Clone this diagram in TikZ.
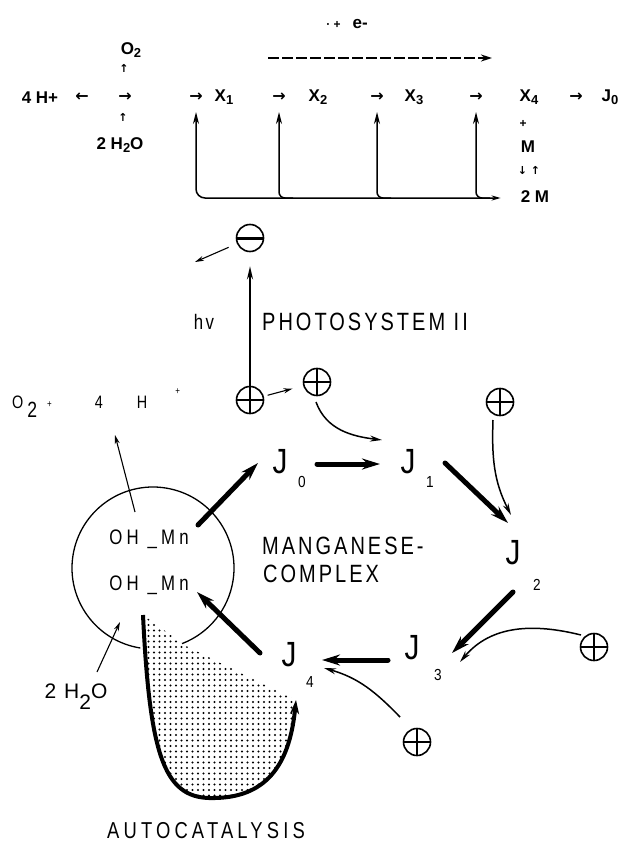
\documentclass[tikz,border=0pt]{standalone}
\usepackage{fontspec}
\setmainfont{Liberation Sans}
\newfontfamily\arrf{DejaVu Sans}
\newfontfamily\lfont[FakeStretch=0.8,LetterSpace=12]{Liberation Sans}
\newfontfamily\acfont[FakeStretch=0.8,LetterSpace=18]{Liberation Sans}
\newfontfamily\ohfont[FakeStretch=0.8,LetterSpace=20]{Liberation Sans}
\newfontfamily\hfont[LetterSpace=10]{Liberation Sans}
\newfontfamily\jfont[FakeStretch=0.85]{Liberation Sans}
\newcommand{\tsb}[1]{\raisebox{-3pt}{\fontsize{13}{13}\selectfont #1}}
\usetikzlibrary{arrows.meta,patterns.meta}
\begin{document}
\begin{tikzpicture}[x=1pt,y=-1pt,
 toptxt/.style={font=\fontsize{17}{17}\selectfont\bfseries, inner sep=0pt},
 topsm/.style={font=\fontsize{12}{12}\selectfont\bfseries, inner sep=0pt},
 arrg/.style={font=\arrf\fontsize{16}{16}\selectfont\bfseries, inner sep=0pt},
 arrsm/.style={font=\arrf\fontsize{11}{11}\selectfont\bfseries, inner sep=0pt},
 labtxt/.style={font=\lfont\fontsize{25}{25}\selectfont, inner sep=0pt},
 hvtxt/.style={font=\lfont\fontsize{21}{21}\selectfont, inner sep=0pt},
 ohtxt/.style={font=\ohfont\fontsize{21}{21}\selectfont, inner sep=0pt},
 jnode/.style={font=\jfont\fontsize{35}{35}\selectfont, inner sep=0pt},
 jsub/.style={font=\jfont\fontsize{16}{16}\selectfont, inner sep=0pt},
 pcirc/.style={circle, draw, line width=1.6pt, minimum size=27pt, inner sep=0pt},
 plusc/.style={pcirc, path picture={\draw[line width=2.4pt] (path picture bounding box.north) -- (path picture bounding box.south) (path picture bounding box.west) -- (path picture bounding box.east);}},
 minusc/.style={pcirc, path picture={\draw[line width=3pt] (path picture bounding box.west) -- (path picture bounding box.east);}},
 jarrow/.style={line width=5pt, line cap=round, -{Stealth[length=18pt,width=11pt,inset=6pt]}},
 thinarr/.style={line width=1.1pt, -{Stealth[length=9pt,width=5pt]}},
 curvearr/.style={line width=1.5pt, -{Stealth[length=12pt,width=6pt]}},
 vuparr/.style={line width=1.5pt, -{Stealth[length=12pt,width=6pt]}},
]
\useasboundingbox (0,0) rectangle (621,845);

% ---------- top reaction scheme ----------
\node[toptxt] (ee) at (347,24) {{\fontsize{12}{12}\selectfont · +}\hspace{12pt}e-};
\coordinate (d1) at (268,58);
\coordinate (d2) at (492,58);
\draw[line width=2.6pt, dash pattern=on 11pt off 3pt, -{Stealth[length=11pt,width=7pt]}] (d1) -- (d2);

\node[toptxt] (H4) at (40,98) {4 H+};
\node[arrg] (aL) at (82,97) {←};
\node[arrg] (a0) at (125,97) {→};
\node[toptxt] (O2) at (131,50) {O\tsb{2}};
\node[arrsm] (u1) at (124,68) {↑};
\node[arrsm] (u2) at (123,117) {↑};
\node[toptxt] (H2Ot) at (120,145) {2 H\tsb{2}O};
\node[arrg] (a1) at (196,97) {→};
\node[toptxt] (X1) at (224,97) {X\tsb{1}};
\node[arrg] (a2) at (279,97) {→};
\node[toptxt] (X2) at (318,97) {X\tsb{2}};
\node[arrg] (a3) at (377,97) {→};
\node[toptxt] (X3) at (414,97) {X\tsb{3}};
\node[arrg] (a4) at (476,97) {→};
\node[toptxt] (X4) at (529,97) {X\tsb{4}};
\node[arrg] (a5) at (576,97) {→};
\node[toptxt] (J0t) at (610,97) {J\tsb{0}};
\node[topsm] (pl) at (523,124) {+};
\node[toptxt] (Mt) at (528,147) {M};
\node[arrsm] (ud) at (529,170) {↓ ↑};
\node[toptxt] (M2) at (535,197) {2 M};

\draw[{Stealth[length=9pt,width=5pt]}-{Stealth[length=12pt,width=6pt]}, line width=1.5pt, rounded corners=9pt]
  ([shift={(-20,1)}]M2.west) -| ([shift={(0,15)}]a1.center);
\draw[vuparr, rounded corners=6pt] ([shift={(14,101)}]a2.center) -| ([shift={(0,15)}]a2.center);
\draw[vuparr, rounded corners=6pt] ([shift={(14,101)}]a3.center) -| ([shift={(0,15)}]a3.center);
\draw[vuparr, rounded corners=6pt] ([shift={(14,101)}]a4.center) -| ([shift={(0,15)}]a4.center);

% ---------- photosystem ----------
\node[minusc] (M) at (250,238) {};
\node[plusc] (P1) at (250,400) {};
\node[plusc] (P2) at (317,382) {};
\node[plusc] (P3) at (500,402) {};
\node[plusc] (P4) at (594,647) {};
\node[plusc] (P5) at (417,742) {};

\draw[line width=2pt, -{Stealth[length=13pt,width=6pt]}, shorten >=14pt] (P1) -- (M);
\coordinate (e1) at (195,262);
\draw[thinarr, shorten <=9pt] (M) -- (e1);
\draw[thinarr, shorten <=4pt, shorten >=11pt] (P1) -- (P2);

\node[hvtxt] (hv) at (204,322) {hv};
\node[labtxt, anchor=west] (PS) at (262,322) {PHOTOSYSTEM II};

\node[font=\ohfont\fontsize{18}{18}\selectfont, inner sep=0pt, anchor=west] (O2H) at (12,403)
  {O\hspace{4pt}\raisebox{-9pt}{\fontsize{22}{22}\selectfont 2}\hspace{10pt}\raisebox{1pt}{\fontsize{10}{10}\selectfont +}\hspace{43pt}4\hspace{34pt}H\hspace{28pt}\raisebox{14pt}{\fontsize{10}{10}\selectfont +}};

\coordinate (c2) at (382,440);
\draw[curvearr] ([shift={(-1,20)}]P2.center) to[out=-70,in=173] (c2);
\coordinate (c3) at (511,515);
\draw[curvearr] ([shift={(-7,18)}]P3.center) to[out=-92,in=117] (c3);
\coordinate (c4) at (460,662);
\draw[curvearr] ([shift={(-13,-12)}]P4.center) to[out=166,in=50] (c4);
\coordinate (c5) at (324,668);
\draw[curvearr] ([shift={(-17,-25)}]P5.center) to[out=134,in=-16] (c5);

% ---------- manganese complex ----------
\coordinate (ac1) at (143,615);
\coordinate (ac2) at (296,700);
\coordinate (st) at (186,646);
\fill[pattern={Dots[distance=5.5pt,radius=1.1pt]}] (ac1) .. controls (150,760) and (165,800) .. (215,798) .. controls (270,797) and (290,760) .. (ac2) -- (st) -- cycle;

\coordinate (cc) at (153,568);
\draw[line width=1.3pt] (cc) ++(99:81) arc[start angle=99, end angle=429, radius=81];

\draw[line width=4pt, -{Stealth[length=14pt,width=9pt]}] (ac1) .. controls (150,760) and (165,800) .. (215,798) .. controls (270,797) and (290,760) .. (ac2);

\node[ohtxt] (OH1) at (149,539) {OH \_Mn};
\node[ohtxt] (OH2) at (149,585) {OH \_Mn};
\node[labtxt, anchor=west] (MG) at (262,546) {MANGANESE-};
\node[labtxt, anchor=west] (CP) at (263,574) {COMPLEX};

\node[jnode] (J0) at (280,462) {J};
\node[jnode] (J1) at (408,462) {J};
\node[jnode] (J2) at (513,553) {J};
\node[jnode] (J3) at (412,648) {J};
\node[jnode] (J4) at (289,655) {J};
\node[jsub] (J0s) at (302,482) {0};
\node[jsub] (J1s) at (430,482) {1};
\node[jsub] (J2s) at (537,585) {2};
\node[jsub] (J3s) at (438,675) {3};
\node[jsub] (J4s) at (310,682) {4};

\draw[jarrow] ([shift={(37,2)}]J0.center) -- ([shift={(-28,2)}]J1.center);
\draw[jarrow] ([shift={(37,1)}]J1.center) -- ([shift={(-5,-30)}]J2.center);
\draw[jarrow] ([shift={(0,39)}]J2.center) -- ([shift={(40,5)}]J3.center);
\draw[jarrow] ([shift={(-24,12)}]J3.center) -- ([shift={(33,5)}]J4.center);
\draw[jarrow] ([shift={(-29,-2)}]J4.center) -- ([shift={(48,7)}]OH2.center);
\draw[jarrow] ([shift={(49,-14)}]OH1.center) -- ([shift={(-22,1)}]J0.center);

\coordinate (c6) at (115,435);
\draw[thinarr] ([shift={(-14,-27)}]OH1.center) -- (c6);
\node[font=\hfont\fontsize{21}{21}\selectfont, inner sep=0pt] (H2Ob) at (76,697) {2 H\raisebox{-11pt}{2}O};
\coordinate (c7) at (120,622);
\draw[thinarr] ([shift={(21,-25)}]H2Ob.center) -- (c7);

\node[font=\acfont\fontsize{23}{23}\selectfont, inner sep=0pt] (AC) at (206,831) {AUTOCATALYSIS};
\end{tikzpicture}
\end{document}
